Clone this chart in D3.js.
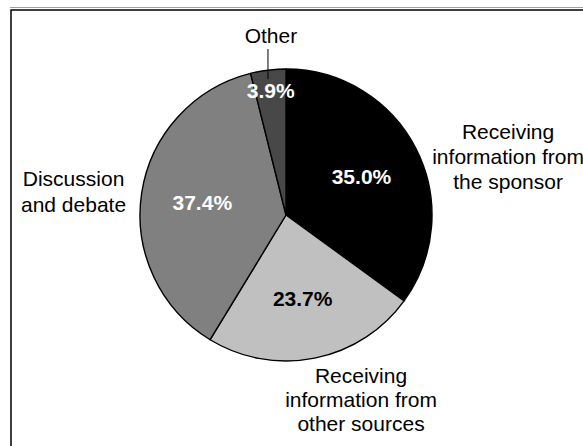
<!DOCTYPE html>
<html>
<head>
<meta charset="utf-8">
<script src="https://cdn.jsdelivr.net/npm/d3@7"></script>
<style>
  html, body { margin: 0; padding: 0; background: #fff; }
  svg { display: block; }
  text { font-family: "Liberation Sans", Arial, sans-serif; }
</style>
</head>
<body>
<svg id="chart" width="583" height="446"></svg>
<script>
// Share of time spent on each activity
const categories = [
  "Receiving information from the sponsor",
  "Receiving information from other sources",
  "Discussion and debate",
  "Other"
];
const values = [35.0, 23.7, 37.4, 3.9];
const sliceColors = ["#000000", "#c0c0c0", "#808080", "#484848"];
const valueTextColors = ["#ffffff", "#000000", "#ffffff", "#ffffff"];
// Category labels split into lines as printed
const labelLines = [
  ["Receiving", "information from", "the sponsor"],
  ["Receiving", "information from", "other sources"],
  ["Discussion", "and debate"],
  ["Other"]
];

const W = 583, H = 446;
const cx = 286, cy = 215, R = 146;

// Where each category label block sits, relative to the pie centre in radius units
// (x = centre of block, y = baseline of first line), with its line spacing
const labelPlacement = [
  { dx: 1.521, dy: -0.521, lh: 25 },
  { dx: 0.514, dy: 1.151, lh: 24 },
  { dx: -1.455, dy: -0.199, lh: 26 },
  { dx: -0.103, dy: -1.178, lh: 25 }
];

const svg = d3.select("#chart");

// Outer frame
svg.append("line")
  .attr("x1", 10).attr("x2", W).attr("y1", 7.5).attr("y2", 7.5)
  .attr("stroke", "#a0a0a0").attr("stroke-width", 1);
svg.append("rect")
  .attr("x", 11).attr("y", 10)
  .attr("width", W + 20).attr("height", H + 20)
  .attr("fill", "none").attr("stroke", "#000").attr("stroke-width", 1.5);

const rows = categories.map((c, i) => ({ category: c, value: values[i], i }));

const pie = d3.pie()
  .sort(null)
  .value(d => d.value)
  .startAngle(0)
  .endAngle(2 * Math.PI);

const arcs = pie(rows);
const arc = d3.arc().innerRadius(0).outerRadius(R);

const g = svg.append("g").attr("transform", `translate(${cx},${cy})`);

g.selectAll("path.slice")
  .data(arcs)
  .join("path")
  .attr("class", "slice")
  .attr("d", arc)
  .attr("fill", d => sliceColors[d.data.i])
  .attr("stroke", "#000")
  .attr("stroke-width", 1.4)
  .attr("stroke-linejoin", "round");

// Percentage labels inside slices; narrow slices get theirs closer to the rim
const total = d3.sum(values);
g.selectAll("text.pct")
  .data(arcs)
  .join("text")
  .attr("class", "pct")
  .attr("transform", d => {
    const share = d.data.value / total;
    const r = R * (share < 0.05 ? 0.86 : 0.58);
    const c = d3.arc().innerRadius(r).outerRadius(r).centroid(d);
    return `translate(${c[0]},${c[1]})`;
  })
  .attr("text-anchor", "middle")
  .attr("dy", "0.36em")
  .attr("font-size", 21)
  .attr("font-weight", "bold")
  .attr("fill", d => valueTextColors[d.data.i])
  .text(d => d.data.value.toFixed(1) + "%");

// Category labels outside the pie
const labels = svg.append("g").selectAll("text.cat")
  .data(rows)
  .join("text")
  .attr("class", "cat")
  .attr("text-anchor", "middle")
  .attr("font-size", 21)
  .attr("fill", "#000");

labels.each(function(d) {
  const p = labelPlacement[d.i];
  const x = cx + p.dx * R;
  const y = cy + p.dy * R;
  d3.select(this).selectAll("tspan")
    .data(labelLines[d.i])
    .join("tspan")
    .attr("x", x)
    .attr("y", (t, k) => y + k * p.lh)
    .text(t => t);
});

// Leader line from the "Other" label down into its slice
const otherArc = arcs[3];
const otherMid = (otherArc.startAngle + otherArc.endAngle) / 2;
const otherLabelX = cx + labelPlacement[3].dx * R - 3;
const otherLabelY = cy + labelPlacement[3].dy * R;
svg.append("line")
  .attr("x1", otherLabelX).attr("x2", otherLabelX)
  .attr("y1", otherLabelY + 6)
  .attr("y2", cy - R * Math.cos(otherMid) + 9)
  .attr("stroke", "#000").attr("stroke-width", 1);
</script>
</body>
</html>
